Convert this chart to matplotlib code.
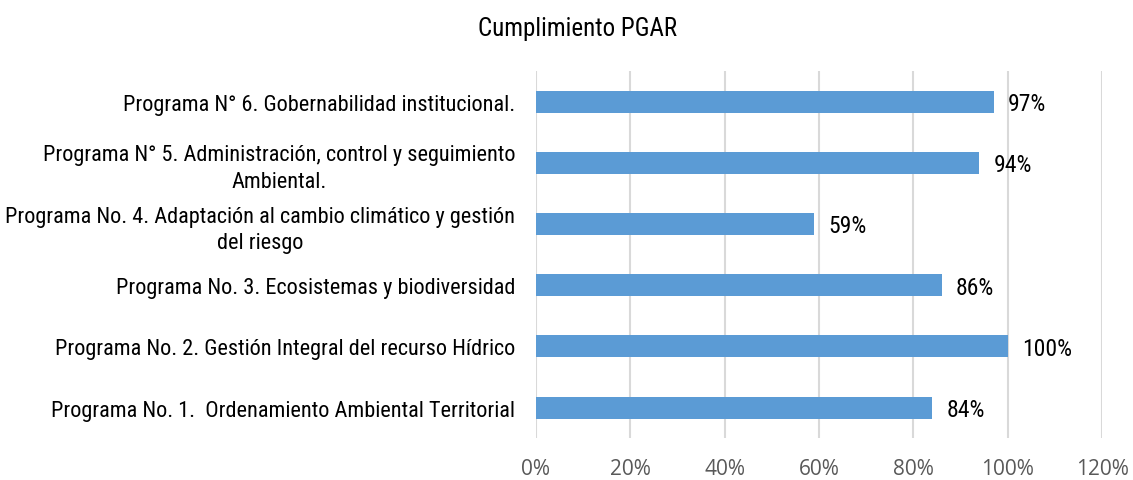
import matplotlib
matplotlib.use("Agg")
import matplotlib.pyplot as plt
from matplotlib import font_manager
from matplotlib.ticker import FuncFormatter

# datos (de abajo hacia arriba)
programas = [
    "Programa No. 1.  Ordenamiento Ambiental Territorial",
    "Programa No. 2. Gestión Integral del recurso Hídrico",
    "Programa No. 3. Ecosistemas y biodiversidad",
    "Programa No. 4. Adaptación al cambio climático y gestión\ndel riesgo",
    "Programa N° 5. Administración, control y seguimiento\nAmbiental.",
    "Programa N° 6. Gobernabilidad institucional.",
]
cumplimiento = [0.84, 1.00, 0.86, 0.59, 0.94, 0.97]
ticks = [0, 0.2, 0.4, 0.6, 0.8, 1.0, 1.2]

names = {f.name for f in font_manager.fontManager.ttflist}
narrow = [n for n in ["Liberation Sans Narrow", "Roboto Condensed"] if n in names] \
    + ["Liberation Sans", "DejaVu Sans"]

fig = plt.figure(figsize=(11.33, 4.81), dpi=100)
ax = fig.add_axes([0.473, 0.087, 0.4997, 0.763])

pos = range(len(programas))
ax.barh(pos, cumplimiento, height=0.36, color="#5B9BD5", zorder=3)

for y, v in zip(pos, cumplimiento):
    ax.text(v + 0.03, y - 0.03, f"{v:.0%}", va="center", ha="left",
            fontsize=17, family=narrow, color="#000000")

ax.set_xlim(0, 1.2)
ax.set_ylim(-0.5, len(programas) - 0.5)
ax.set_xticks(ticks)
ax.xaxis.set_major_formatter(FuncFormatter(lambda x, p: f"{x:.0%}"))
ax.set_yticks(list(pos))
ax.set_yticklabels(programas, family=narrow, fontsize=16, ha="right", ma="center",
                   linespacing=1.35)
ax.tick_params(axis="y", length=0, pad=15)
ax.tick_params(axis="x", length=0, pad=14, labelcolor="#595959", labelsize=15)
for lab in ax.get_xticklabels():
    lab.set_family(["Open Sans", "DejaVu Sans"])

ax.grid(axis="x", color="#D9D9D9", linewidth=1.5, zorder=0)
for s in ax.spines.values():
    s.set_visible(False)

fig.text(0.51, 0.94, "Cumplimiento PGAR", ha="center", va="center",
         fontsize=18, family=narrow)

fig.savefig("out.png", dpi=100)
